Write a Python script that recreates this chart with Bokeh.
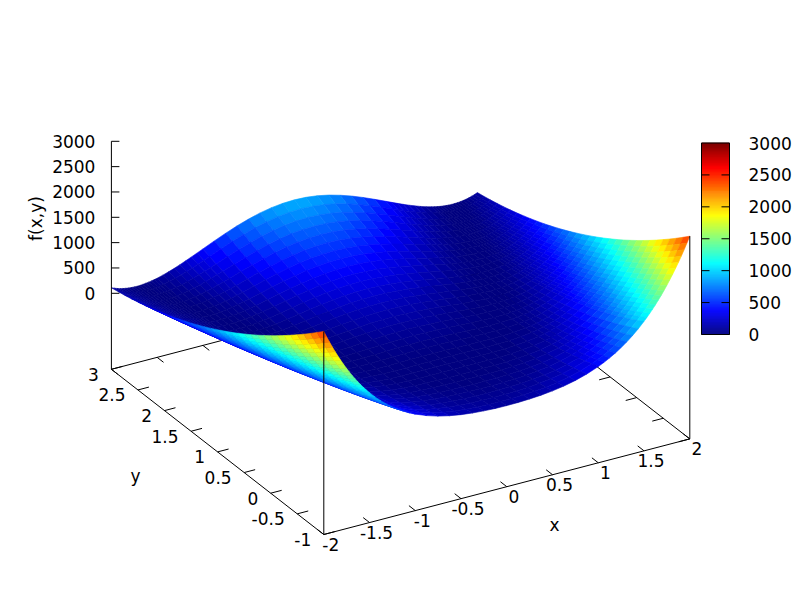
from bokeh.plotting import figure
from bokeh.embed import file_html
from bokeh.resources import INLINE
from bokeh.models import LinearColorMapper, ColumnDataSource, Range1d
from bokeh.core.properties import value
import numpy as np

x_vals = [-2,-1.96875,-1.9375,-1.90625,-1.875,-1.84375,-1.8125,-1.78125,-1.75,-1.71875,-1.6875,-1.65625,-1.625,-1.59375,-1.5625,-1.53125,-1.5,
          -1.4375,-1.375,-1.3125,-1.25,-1.1875,-1.125,-1.0625,-1,
          -0.875,-0.75,-0.625,-0.5,-0.375,-0.25,-0.125,0,0.125,0.25,0.375,0.5,0.625,0.75,0.875,
          1,1.0625,1.125,1.1875,1.25,1.3125,1.375,1.4375,
          1.5,1.53125,1.5625,1.59375,1.625,1.65625,1.6875,1.71875,1.75,1.78125,1.8125,1.84375,1.875,1.90625,1.9375,1.96875,2]
y_vals = [-1 + i * 0.125 for i in range(33)]
# one list per x value, running along y
z_cols = [
[2509,2386,2265,2148,2034,1923,1815,1711,1609,1511,1415,1323,1234,1148,1065,986,909,836,765,698,634,573,515,461,409,361,315,273,234,198,165,136,109],
[2387,2266,2149,2035,1924,1816,1711,1610,1511,1416,1324,1235,1149,1066,986,910,836,766,699,635,574,516,461,409,361,316,273,234,198,165,136,109,86],
[2269,2152,2037,1926,1818,1714,1612,1513,1418,1326,1237,1151,1068,988,911,838,767,700,636,575,517,462,410,362,317,274,235,199,166,136,110,86,66],
[2155,2041,1930,1822,1717,1615,1516,1421,1328,1239,1153,1070,990,913,840,769,702,637,576,518,463,412,363,317,275,236,199,166,137,110,86,66,48],
[2047,1936,1828,1722,1621,1522,1426,1333,1244,1158,1074,994,917,844,773,705,641,580,521,466,414,365,320,277,238,201,168,138,111,87,67,49,35],
[1943,1835,1730,1628,1529,1432,1340,1250,1164,1080,1000,923,849,778,710,645,584,525,470,418,369,323,280,240,204,170,140,113,89,68,50,36,24],
[1844,1739,1636,1537,1440,1348,1258,1171,1087,1007,929,855,783,716,651,589,530,475,422,373,326,284,244,207,173,143,115,91,69,52,37,25,16],
[1749,1646,1547,1450,1357,1267,1179,1095,1015,937,862,790,722,657,595,536,480,427,378,331,288,248,210,176,146,118,93,72,53,38,26,17,11],
[1658,1558,1462,1368,1277,1190,1105,1024,946,871,799,730,665,602,543,487,433,383,337,293,252,215,180,149,121,96,74,55,40,27,18,12,8],
[1571,1473,1379,1288,1200,1115,1034,955,880,807,738,672,609,549,493,439,389,341,297,256,218,183,152,123,98,75,57,40,28,18,11,8,7],
[1487,1393,1301,1213,1127,1046,967,891,818,748,682,618,558,501,447,397,348,304,262,224,188,157,128,102,79,59,43,29,19,12,8,7,9],
[1409,1317,1228,1142,1060,980,904,830,760,693,629,568,511,456,405,356,311,269,230,194,162,132,106,82,62,45,31,21,13,8,7,9,14],
[1332,1243,1157,1073,993,916,843,772,704,640,579,520,465,413,364,319,276,237,200,167,137,110,86,66,48,34,22,14,9,7,8,12,20],
[1260,1173,1089,1009,931,857,785,717,652,590,531,476,423,374,327,284,244,207,173,143,115,91,69,51,36,24,15,10,7,8,11,18,28],
[1191,1107,1026,947,872,800,731,666,603,543,487,434,384,337,293,252,215,180,149,121,96,74,55,39,26,17,11,7,7,10,17,26,38],
[1125,1043,964,888,815,746,679,616,556,499,445,394,346,302,260,222,187,155,126,100,77,58,41,28,18,11,7,6,8,14,22,34,49],
[1062,983,906,833,762,695,631,570,512,458,406,358,312,270,231,195,162,133,106,83,62,45,31,20,12,8,6,8,12,20,31,45,62],
[946,871,799,730,665,602,542,486,433,383,336,292,251,214,179,148,120,95,73,54,38,25,16,10,6,6,9,16,25,37,53,72,93],
[842,771,703,639,578,519,464,412,363,318,275,236,199,166,136,109,85,65,47,33,21,13,8,6,7,11,19,29,43,60,80,103,129],
[746,680,616,556,499,445,395,346,302,260,222,186,155,126,100,77,57,41,27,17,10,6,5,7,13,21,33,48,66,87,111,138,168],
[662,599,540,484,430,380,334,290,249,212,177,146,118,93,71,52,37,24,15,9,5,5,9,15,24,37,52,71,93,118,146,177,212],
[586,527,472,419,370,323,281,241,204,170,140,112,88,66,49,34,22,13,8,5,6,10,17,27,40,56,76,98,124,153,185,220,258],
[518,463,411,362,317,274,235,198,165,135,108,84,64,46,32,20,12,7,5,6,10,18,28,42,59,79,102,128,157,190,225,264,306],
[457,405,357,312,269,230,194,161,131,105,81,61,43,29,18,10,6,4,5,10,18,29,43,60,80,103,130,159,192,228,267,309,354],
[404,356,310,268,229,193,160,131,104,81,60,43,29,18,10,6,4,6,10,18,29,43,60,81,104,131,160,193,229,268,310,356,404],
[316,273,234,197,164,134,107,83,63,45,31,19,11,6,4,5,9,17,27,41,58,78,101,127,156,189,224,263,305,350,398,449,503],
[247,210,175,144,116,91,69,50,35,22,13,7,3,3,7,13,22,35,50,69,91,116,144,175,210,247,288,332,378,428,482,538,597],
[196,163,133,106,82,62,44,30,18,10,5,3,4,8,16,26,40,57,77,100,126,155,188,223,262,304,349,397,448,502,560,620,684],
[158,129,102,79,58,41,27,16,8,4,2,4,8,16,27,41,58,79,102,129,158,191,227,266,308,354,402,454,508,566,627,691,758],
[132,105,81,61,43,29,17,9,4,2,3,7,15,25,39,56,76,99,125,154,187,222,261,303,348,396,447,501,559,619,683,750,820],
[115,90,68,49,34,21,12,6,2,2,6,12,21,34,49,68,90,115,143,174,209,246,287,331,377,427,481,537,596,659,724,793,865],
[104,80,60,42,28,16,8,3,1,2,6,14,24,38,55,75,98,124,153,186,221,260,302,347,395,446,500,558,618,682,749,819,892],
[101,78,57,40,26,15,7,3,1,3,7,15,26,40,57,78,101,128,157,190,226,265,307,353,401,453,507,565,626,690,757,828,901],
[104,80,60,42,28,16,8,3,1,2,6,14,24,38,55,75,98,124,153,186,221,260,302,347,395,446,500,558,618,682,749,819,892],
[114,89,67,48,33,20,11,5,1,1,5,11,20,33,48,67,89,114,142,173,208,245,286,330,376,426,480,536,595,658,723,792,864],
[130,103,79,59,41,27,15,7,2,0,1,5,13,23,37,54,74,97,123,152,185,220,259,301,346,394,445,499,557,617,681,748,818],
[156,127,100,77,56,39,25,14,6,2,0,2,6,14,25,39,56,77,100,127,156,189,225,264,306,352,400,452,506,564,625,689,756],
[193,160,130,103,79,59,41,27,15,7,2,0,1,5,13,23,37,54,74,97,123,152,185,220,259,301,346,394,445,499,557,617,681],
[244,207,172,141,113,88,66,47,32,19,10,4,0,0,4,10,19,32,47,66,88,113,141,172,207,244,285,329,375,425,479,535,594],
[312,269,230,193,160,130,103,79,59,41,27,15,7,2,0,1,5,13,23,37,54,74,97,123,152,185,220,259,301,346,394,445,499],
[400,352,306,264,225,189,156,127,100,77,56,39,25,14,6,2,0,2,6,14,25,39,56,77,100,127,156,189,225,264,306,352,400],
[453,401,353,308,265,226,190,157,127,101,77,57,39,25,14,6,2,0,1,6,14,25,39,56,76,99,126,155,188,224,263,305,350],
[513,458,406,357,312,269,230,193,160,130,103,79,59,41,27,15,7,2,0,1,5,13,23,37,54,74,97,123,152,185,220,259,301],
[581,522,467,414,365,318,276,236,199,165,135,107,83,61,44,29,17,8,3,0,1,5,12,22,35,51,71,93,119,148,180,215,253],
[657,594,535,479,425,375,329,285,244,207,172,141,113,88,66,47,32,19,10,4,0,0,4,10,19,32,47,66,88,113,141,172,207],
[741,675,611,551,494,440,390,341,297,255,217,181,150,121,95,72,52,36,22,12,5,1,0,2,8,16,28,43,61,82,106,133,163],
[836,765,697,633,572,513,458,406,357,312,269,230,193,160,130,103,79,59,41,27,15,7,2,0,1,5,13,23,37,54,74,97,123],
[940,865,793,724,659,596,536,480,427,377,330,286,245,208,173,142,114,89,67,48,32,19,10,4,0,0,3,10,19,31,47,66,87],
[1056,977,900,827,756,689,625,564,506,452,400,352,306,264,225,189,156,127,100,77,56,39,25,14,6,2,0,2,6,14,25,39,56],
[1119,1037,958,882,809,740,673,610,550,493,439,388,340,296,254,216,181,149,120,94,71,52,35,22,12,5,1,0,2,8,16,28,43],
[1184,1100,1019,940,865,793,724,659,596,536,480,427,377,330,286,245,208,173,142,114,89,67,48,32,19,10,4,0,0,3,10,19,31],
[1253,1166,1082,1002,924,850,778,710,645,583,524,469,416,367,320,277,237,200,166,136,108,84,62,44,29,17,8,3,0,1,4,11,21],
[1325,1236,1150,1066,986,909,836,765,697,633,572,513,458,406,357,312,269,230,193,160,130,103,79,59,41,27,15,7,2,0,1,5,13],
[1402,1310,1221,1135,1053,973,897,823,753,686,622,561,504,449,398,349,304,262,223,187,155,125,99,75,55,38,24,14,6,1,0,2,7],
[1480,1386,1294,1206,1120,1039,960,884,811,741,675,611,551,494,440,390,341,297,255,217,181,150,121,95,72,52,36,22,12,5,1,0,2],
[1564,1466,1372,1281,1193,1108,1027,948,873,800,731,665,602,542,486,432,382,334,290,249,211,176,145,116,91,68,50,33,21,11,4,1,0],
[1651,1551,1455,1361,1270,1183,1098,1017,939,864,792,723,658,595,536,480,426,376,330,286,245,208,173,142,114,89,67,48,33,20,11,5,1],
[1742,1639,1540,1443,1350,1260,1172,1088,1008,930,855,783,715,650,588,529,473,420,371,324,281,241,203,169,139,111,86,65,46,31,19,10,4],
[1837,1732,1629,1530,1433,1341,1251,1164,1080,1000,922,848,776,709,644,582,523,468,415,366,319,277,237,200,166,136,108,84,62,45,30,18,9],
[1936,1828,1723,1621,1522,1425,1333,1243,1157,1073,993,916,842,771,703,638,577,518,463,411,362,316,273,233,197,163,133,106,82,61,43,29,17],
[2040,1929,1821,1715,1614,1515,1419,1326,1237,1151,1067,987,910,837,766,698,634,573,514,459,407,358,313,270,231,194,161,131,104,80,60,42,28],
[2148,2034,1923,1815,1710,1608,1509,1414,1321,1232,1146,1063,983,906,833,762,695,630,569,511,456,405,356,310,268,229,192,159,130,103,79,59,41],
[2261,2144,2029,1918,1810,1706,1604,1505,1410,1318,1229,1143,1060,980,903,830,759,692,628,567,509,454,402,354,309,266,227,191,158,128,102,78,58],
[2379,2258,2141,2027,1916,1808,1703,1602,1503,1408,1316,1227,1141,1058,978,902,828,758,691,627,566,508,453,401,353,308,265,226,190,157,128,101,78],
[2501,2378,2257,2140,2026,1915,1807,1703,1601,1503,1407,1315,1226,1140,1057,978,901,828,757,690,626,565,507,453,401,353,307,265,226,190,157,128,101],
]
x_ticks = [-2, -1.5, -1, -0.5, 0, 0.5, 1, 1.5, 2]
y_ticks = [-1, -0.5, 0, 0.5, 1, 1.5, 2, 2.5, 3]
z_ticks = [0, 500, 1000, 1500, 2000, 2500, 3000]
x_labels = ["-2", "-1.5", "-1", "-0.5", "0", "0.5", "1", "1.5", "2"]
y_labels = ["-1", "-0.5", "0", "0.5", "1", "1.5", "2", "2.5", "3"]
z_labels = ["0", "500", "1000", "1500", "2000", "2500", "3000"]

# orthographic view of the box, in page pixels
O = np.array([323.3, 534.0])
AX = np.array([91.5, -23.9])
AY = np.array([-53.1, -41.3])
Z_OFF = -76.0
Z_SCALE = -152.0 / 3000.0

def sx(x, y):
    return O[0] + (x + 2) * AX[0] + (y + 1) * AY[0]

def sy(x, y, z=None):
    b = O[1] + (x + 2) * AX[1] + (y + 1) * AY[1]
    return b if z is None else b + Z_OFF + z * Z_SCALE

F = value("DejaVu Sans")
FS = value("17px")

v = np.linspace(0, 1, 256)
def ch(c):
    return np.clip(1.5 - np.abs(4 * v - c), 0, 1)
jet = ["#%02x%02x%02x" % (int(r * 255), int(g * 255), int(b * 255))
       for r, g, b in zip(ch(3), ch(2), ch(1))]
mapper = LinearColorMapper(palette=jet, low=0, high=3000)

p = figure(width=800, height=600, output_backend="svg", toolbar_location=None,
           x_range=Range1d(0, 800), y_range=Range1d(600, 0), min_border=0)
p.axis.visible = False
p.grid.visible = False
p.outline_line_color = None

def seg(x0, y0, x1, y1):
    p.segment(x0, y0, x1, y1, line_color="black", line_width=1)

# back walls, under the surface
xa, xb, ya, yb = x_vals[0], x_vals[-1], y_vals[0], y_vals[-1]
xs0 = [sx(xa, yb)]; ys0 = [sy(xa, yb)]; xs1 = [sx(xb, yb)]; ys1 = [sy(xb, yb)]
xs0.append(sx(xb, ya)); ys0.append(sy(xb, ya)); xs1.append(sx(xb, yb)); ys1.append(sy(xb, yb))
TX, TY = 0.12, 0.12
for t in x_ticks:
    xs0.append(sx(t, yb)); ys0.append(sy(t, yb)); xs1.append(sx(t, yb - TY)); ys1.append(sy(t, yb - TY))
for t in y_ticks:
    xs0.append(sx(xb, t)); ys0.append(sy(xb, t)); xs1.append(sx(xb - TX, t)); ys1.append(sy(xb - TX, t))
seg(xs0, ys0, xs1, ys1)

# surface, far cells first
qx, qy, qv = [], [], []
nx, ny = len(x_vals), len(y_vals)
for j in range(ny - 2, -1, -1):
    for i in range(nx - 2, -1, -1):
        c = [(i, j), (i + 1, j), (i + 1, j + 1), (i, j + 1)]
        qx.append([sx(x_vals[a], y_vals[b]) for a, b in c])
        qy.append([sy(x_vals[a], y_vals[b], z_cols[a][b]) for a, b in c])
        qv.append(sum(z_cols[a][b] for a, b in c) / 4)
src = ColumnDataSource(dict(xs=qx, ys=qy, v=qv))
col = {"field": "v", "transform": mapper}
p.patches("xs", "ys", source=src, fill_color=col, line_color=col, line_width=0.6)

# front edges, ticks and corner posts
xs0 = [sx(xa, ya), sx(xa, ya)]; ys0 = [sy(xa, ya), sy(xa, ya)]
xs1 = [sx(xb, ya), sx(xa, yb)]; ys1 = [sy(xb, ya), sy(xa, yb)]
for t in x_ticks:
    xs0.append(sx(t, ya)); ys0.append(sy(t, ya)); xs1.append(sx(t, ya + TY)); ys1.append(sy(t, ya + TY))
for t in y_ticks:
    xs0.append(sx(xa, t)); ys0.append(sy(xa, t)); xs1.append(sx(xa + TX, t)); ys1.append(sy(xa + TX, t))
seg(xs0, ys0, xs1, ys1)
seg([sx(xa, ya), sx(xb, ya)], [sy(xa, ya), sy(xb, ya)],
    [sx(xa, ya), sx(xb, ya)], [sy(xa, ya, z_cols[0][0]), sy(xb, ya, z_cols[-1][0])])

# z axis
zx = sx(xa, yb)
seg([zx], [sy(xa, yb)], [zx], [sy(xa, yb, z_ticks[-1])])
seg([zx] * len(z_ticks), [sy(xa, yb, t) for t in z_ticks],
    [zx + 8] * len(z_ticks), [sy(xa, yb, t) for t in z_ticks])

def txt(xs, ys, labels, align, **kw):
    p.text(xs, ys, text=labels, text_font=F, text_font_size=FS, text_color="black",
           text_align=align, text_baseline="middle", **kw)

txt([sx(t, ya) + 7 for t in x_ticks], [sy(t, ya) + 10 for t in x_ticks], x_labels, "center")
txt([sx(xa, t) - 12.5 for t in y_ticks], [sy(xa, t) + 5 for t in y_ticks], y_labels, "right")
txt([zx - 16] * len(z_ticks), [sy(xa, yb, t) for t in z_ticks], z_labels, "right")
txt([554], [524], ["x"], "center")
txt([135], [475], ["y"], "center")
txt([35], [218], ["f(x,y)"], "center", angle=[np.pi / 2], angle_units="rad")

# colour box
CL, CR, CT, CB = 701.0, 729.0, 142.5, 334.0
def cy(z):
    return CB + (CT - CB) * z / 3000.0
lev = np.linspace(0, 3000, 193)
src2 = ColumnDataSource(dict(m=(lev[1:] + lev[:-1]) / 2,
                             t=[cy(a) for a in lev[1:]], b=[cy(a) for a in lev[:-1]]))
p.quad(left=CL, right=CR, top="t", bottom="b", source=src2,
       fill_color={"field": "m", "transform": mapper},
       line_color={"field": "m", "transform": mapper}, line_width=0.6)
p.quad(left=[CL], right=[CR], top=[CT], bottom=[CB], fill_color=None, line_color="black", line_width=1)
inner = z_ticks[1:-1]
seg([CL] * len(inner), [cy(t) for t in inner], [CL + 8] * len(inner), [cy(t) for t in inner])
seg([CR] * len(inner), [cy(t) for t in inner], [CR - 8] * len(inner), [cy(t) for t in inner])
txt([748] * len(z_ticks), [cy(t) for t in z_ticks], z_labels, "left")

open("out.html", "w").write(file_html(p, INLINE))
